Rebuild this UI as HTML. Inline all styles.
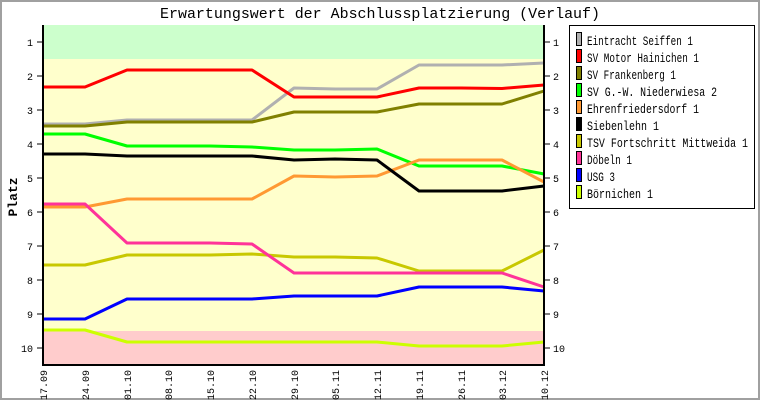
<!DOCTYPE html>
<html><head><meta charset="utf-8"><style>
html,body{margin:0;padding:0;background:#fff;}
svg{display:block;font-family:"Liberation Mono","DejaVu Sans Mono",monospace;}
</style></head><body>
<svg width="760" height="400" viewBox="0 0 760 400" xmlns="http://www.w3.org/2000/svg">
<rect x="0" y="0" width="760" height="400" fill="#fff"/>
<rect x="1" y="1" width="758" height="398" fill="none" stroke="#a0a0a0" stroke-width="2"/>
<text x="380" y="18" text-anchor="middle" font-size="15" textLength="440" lengthAdjust="spacingAndGlyphs">Erwartungswert der Abschlussplatzierung (Verlauf)</text>
<rect x="43" y="25" width="501" height="34" fill="#ccffcc"/>
<rect x="43" y="59" width="501" height="272" fill="#ffffcc"/>
<rect x="43" y="331" width="501" height="34" fill="#ffcccc"/>
<g fill="none" stroke-width="3" stroke-linejoin="round">
<polyline stroke="#b0b0b0" points="43,124 85,124 127,120 168,120 210,120 252,120 294,88 335,89 377,89 419,65 461,65 502,65 544,63"/>
<polyline stroke="#ff0000" points="43,87 85,87 127,70 168,70 210,70 252,70 294,97 335,97 377,97 419,88 461,88 502,88.5 544,85"/>
<polyline stroke="#808000" points="43,126 85,126 127,122 168,122 210,122 252,122 294,112 335,112 377,112 419,104 461,104 502,104 544,91"/>
<polyline stroke="#00ff00" points="43,134 85,134 127,146 168,146 210,146 252,147 294,150 335,150 377,149 419,166 461,166 502,166 544,174"/>
<polyline stroke="#ff9933" points="43,207 85,207 127,199 168,199 210,199 252,199 294,176 335,177 377,176 419,160 461,160 502,160 544,182"/>
<polyline stroke="#000000" points="43,154 85,154 127,156 168,156 210,156 252,156 294,160 335,159 377,160 419,191 461,191 502,191 544,186"/>
<polyline stroke="#c8c800" points="43,265 85,265 127,255 168,255 210,255 252,254 294,257 335,257 377,258 419,271 461,271 502,271 544,250"/>
<polyline stroke="#ff3399" points="43,204 85,204 127,243 168,243 210,243 252,244 294,273 335,273 377,273 419,273 461,273 502,273 544,287"/>
<polyline stroke="#0000ff" points="43,319 85,319 127,299 168,299 210,299 252,299 294,296 335,296 377,296 419,287 461,287 502,287 544,291"/>
<polyline stroke="#ccff00" points="43,330 85,330 127,342 168,342 210,342 252,342 294,342 335,342 377,342 419,346 461,346 502,346 544,342"/>
</g>
<g stroke="#000" stroke-width="2">
<line x1="43" y1="25" x2="43" y2="366"/>
<line x1="544" y1="25" x2="544" y2="366"/>
<line x1="42" y1="365" x2="545" y2="365"/>
</g>
<g stroke="#000" stroke-width="1">
<line x1="37" y1="42" x2="43" y2="42"/><line x1="544" y1="42" x2="550" y2="42"/>
<line x1="37" y1="76" x2="43" y2="76"/><line x1="544" y1="76" x2="550" y2="76"/>
<line x1="37" y1="110" x2="43" y2="110"/><line x1="544" y1="110" x2="550" y2="110"/>
<line x1="37" y1="144" x2="43" y2="144"/><line x1="544" y1="144" x2="550" y2="144"/>
<line x1="37" y1="178" x2="43" y2="178"/><line x1="544" y1="178" x2="550" y2="178"/>
<line x1="37" y1="212" x2="43" y2="212"/><line x1="544" y1="212" x2="550" y2="212"/>
<line x1="37" y1="246" x2="43" y2="246"/><line x1="544" y1="246" x2="550" y2="246"/>
<line x1="37" y1="280" x2="43" y2="280"/><line x1="544" y1="280" x2="550" y2="280"/>
<line x1="37" y1="314" x2="43" y2="314"/><line x1="544" y1="314" x2="550" y2="314"/>
<line x1="37" y1="348" x2="43" y2="348"/><line x1="544" y1="348" x2="550" y2="348"/>
</g>
<g font-size="10" text-anchor="end">
<text x="33" y="46">1</text><text x="33" y="80">2</text><text x="33" y="114">3</text><text x="33" y="148">4</text><text x="33" y="182">5</text><text x="33" y="216">6</text><text x="33" y="250">7</text><text x="33" y="284">8</text><text x="33" y="318">9</text><text x="33" y="352">10</text>
</g>
<g font-size="10" text-anchor="start">
<text x="553" y="46">1</text><text x="553" y="80">2</text><text x="553" y="114">3</text><text x="553" y="148">4</text><text x="553" y="182">5</text><text x="553" y="216">6</text><text x="553" y="250">7</text><text x="553" y="284">8</text><text x="553" y="318">9</text><text x="553" y="352">10</text>
</g>
<text transform="translate(17,197) rotate(-90)" font-size="13" font-weight="bold" text-anchor="middle">Platz</text>
<g font-size="10" text-anchor="end">
<text transform="translate(47,370) rotate(-90)">17.09</text>
<text transform="translate(89,370) rotate(-90)">24.09</text>
<text transform="translate(131,370) rotate(-90)">01.10</text>
<text transform="translate(172,370) rotate(-90)">08.10</text>
<text transform="translate(214,370) rotate(-90)">15.10</text>
<text transform="translate(256,370) rotate(-90)">22.10</text>
<text transform="translate(298,370) rotate(-90)">29.10</text>
<text transform="translate(339,370) rotate(-90)">05.11</text>
<text transform="translate(381,370) rotate(-90)">12.11</text>
<text transform="translate(423,370) rotate(-90)">19.11</text>
<text transform="translate(465,370) rotate(-90)">26.11</text>
<text transform="translate(506,370) rotate(-90)">03.12</text>
<text transform="translate(548,370) rotate(-90)">10.12</text>
</g>
<rect x="569.5" y="25.5" width="185" height="183" fill="#fff" stroke="#000" stroke-width="1"/>
<g stroke="#000" stroke-width="1">
<rect x="576.5" y="32.5" width="5" height="13" fill="#b0b0b0"/>
<rect x="576.5" y="49.5" width="5" height="13" fill="#ff0000"/>
<rect x="576.5" y="66.5" width="5" height="13" fill="#808000"/>
<rect x="576.5" y="83.5" width="5" height="13" fill="#00ff00"/>
<rect x="576.5" y="100.5" width="5" height="13" fill="#ff9933"/>
<rect x="576.5" y="117.5" width="5" height="13" fill="#000000"/>
<rect x="576.5" y="134.5" width="5" height="13" fill="#c8c800"/>
<rect x="576.5" y="151.5" width="5" height="13" fill="#ff3399"/>
<rect x="576.5" y="168.5" width="5" height="13" fill="#0000ff"/>
<rect x="576.5" y="185.5" width="5" height="13" fill="#ccff00"/>
</g>
<g font-size="13">
<text x="587" y="45" textLength="106" lengthAdjust="spacingAndGlyphs">Eintracht Seiffen 1</text>
<text x="587" y="62" textLength="112" lengthAdjust="spacingAndGlyphs">SV Motor Hainichen 1</text>
<text x="587" y="79" textLength="89" lengthAdjust="spacingAndGlyphs">SV Frankenberg 1</text>
<text x="587" y="96" textLength="130" lengthAdjust="spacingAndGlyphs">SV G.-W. Niederwiesa 2</text>
<text x="587" y="113" textLength="112" lengthAdjust="spacingAndGlyphs">Ehrenfriedersdorf 1</text>
<text x="587" y="130" textLength="72" lengthAdjust="spacingAndGlyphs">Siebenlehn 1</text>
<text x="587" y="147" textLength="161" lengthAdjust="spacingAndGlyphs">TSV Fortschritt Mittweida 1</text>
<text x="587" y="164" textLength="45" lengthAdjust="spacingAndGlyphs">Döbeln 1</text>
<text x="587" y="181" textLength="28" lengthAdjust="spacingAndGlyphs">USG 3</text>
<text x="587" y="198" textLength="66" lengthAdjust="spacingAndGlyphs">Börnichen 1</text>
</g>
</svg>
</body></html>
